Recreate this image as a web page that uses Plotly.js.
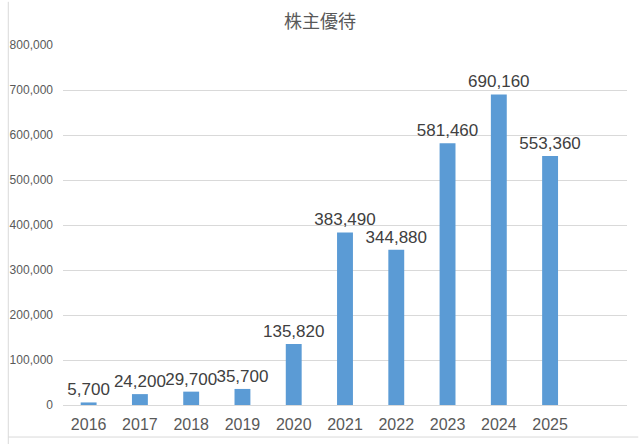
<!DOCTYPE html>
<html>
<head>
<meta charset="utf-8">
<script src="https://cdn.plot.ly/plotly-3.0.1.min.js"></script>
<style>html,body{margin:0;padding:0;background:#fff;}#chart{width:640px;height:444px;}</style>
</head>
<body>
<div id="chart"></div>
<script>
const years = ['2016','2017','2018','2019','2020','2021','2022','2023','2024','2025'];
const values = [5700, 24200, 29700, 35700, 135820, 383490, 344880, 581460, 690160, 553360];
const yTicks = [0,100000,200000,300000,400000,500000,600000,700000,800000];
const titleText = '株主優待';

const fmt = v => v.toLocaleString('en-US');

const trace = {
  type: 'bar',
  x: years,
  y: values,
  marker: {color: '#5B9BD5'},
  text: values.map(fmt),
  textposition: 'outside',
  constraintext: 'none',
  textfont: {family: 'Liberation Sans, Arial, sans-serif', size: 17, color: '#404040'},
  cliponaxis: false,
  hoverinfo: 'none'
};

const layout = {
  width: 640, height: 444,
  margin: {l: 63, r: 13, t: 45, b: 39},
  paper_bgcolor: '#fff', plot_bgcolor: '#fff',
  bargap: 0.69,
  showlegend: false,
  title: {text: titleText, x: 0.5, xanchor: 'center', y: 0.952, yanchor: 'middle',
    font: {family: 'Noto Sans CJK JP, sans-serif', size: 18, color: '#595959'}},
  xaxis: {
    type: 'category',
    categoryorder: 'array', categoryarray: years,
    range: [-0.5, 10.5],
    showgrid: false, zeroline: false, showline: false, ticks: '',
    ticklabelstandoff: 8,
    tickfont: {family: 'Liberation Sans, Arial, sans-serif', size: 16, color: '#595959'}
  },
  yaxis: {
    range: [0, 800000],
    tickvals: yTicks,
    ticktext: yTicks.map(fmt),
    showgrid: true, gridcolor: '#D9D9D9', gridwidth: 1,
    zeroline: true, zerolinecolor: '#D9D9D9', zerolinewidth: 1,
    showline: false, ticks: '',
    ticklabelstandoff: 9,
    tickfont: {family: 'Liberation Sans, Arial, sans-serif', size: 12, color: '#595959'}
  },
  shapes: [
    {type: 'line', xref: 'paper', yref: 'paper', x0: -0.097, x1: -0.097, y0: -0.11, y1: 1.12,
      line: {color: '#D9D9D9', width: 1}},
    {type: 'line', xref: 'paper', yref: 'paper', x0: -0.097, x1: 1.02, y0: -0.089, y1: -0.089,
      line: {color: '#D9D9D9', width: 1}}
  ]
};

Plotly.newPlot('chart', [trace], layout, {displayModeBar: false, staticPlot: true});
</script>
</body>
</html>
